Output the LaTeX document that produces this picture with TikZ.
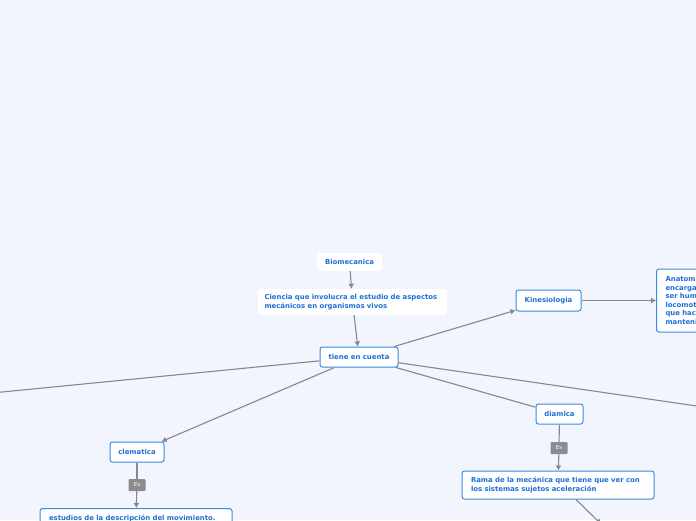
\documentclass[tikz,border=0pt]{standalone}
\usepackage{fontspec}
\setmainfont{DejaVu Sans}
\usetikzlibrary{arrows.meta}
\definecolor{bg}{HTML}{F2F5FD}
\definecolor{txt}{HTML}{1F6FD6}
\definecolor{bord}{HTML}{3A8AE6}
\definecolor{ln}{HTML}{85878F}
\definecolor{esbg}{HTML}{8C8C8C}
\tikzset{
  base/.style={fill=white, rounded corners=2.5pt, text=txt, inner sep=0pt,
    font=\fontsize{6.9}{8.6}\selectfont\bfseries},
  box/.style={base, draw=bord, line width=1pt},
  plainbox/.style={base},
  esbox/.style={fill=esbg, rounded corners=1pt, text=white, inner sep=0pt,
    minimum width=17pt, minimum height=12pt, font=\fontsize{5.5}{6}\selectfont},
  link/.style={draw=ln, line width=1.1pt},
  arr/.style={link, -{Latex[length=5pt,width=6pt]}},
}
\begin{document}
\begin{tikzpicture}[x=1pt,y=-1pt]
\useasboundingbox (0,0) rectangle (696,520);
\clip (0,0) rectangle (696,520);
\fill[bg] (0,0) rectangle (696,520);

\node[plainbox, minimum width=65pt, minimum height=18pt] (bio) at (349.5,262) {Biomecanica};
\node[plainbox, minimum width=189pt, minimum height=26pt, text width=176pt, align=left] (cien) at (352.5,302) {Ciencia que involucra el estudio de aspectos\\mecánicos en organismos vivos};
\node[box, minimum width=78pt, minimum height=20pt] (tiene) at (359,357) {tiene en cuenta};
\node[box, minimum width=65pt, minimum height=21pt] (kin) at (548.5,300.5) {Kinesiologia};
\node[box, anchor=west, minimum height=63pt, inner xsep=9pt, text width=60pt, align=left] (anat) at (656,300.5) {Anatom\\encarga\\ser hum\\locomot\\que hac\\manteni};
\node[box, minimum width=54pt, minimum height=20pt] (clem) at (137,452) {clematica};
\node[esbox] (es1) at (137,485) {Es};
\node[box, anchor=north, minimum width=192pt, inner ysep=6pt, text width=174pt, align=left] (estu) at (136,508) {estudios de la descripción del movimiento.};
\node[box, minimum width=47pt, minimum height=20pt] (dia) at (559.5,414) {diamica};
\node[esbox] (es2) at (559,448) {Es};
\node[box, minimum width=192pt, minimum height=28pt, text width=174pt, align=left] (rama) at (558,485) {Rama de la mecánica que tiene que ver con\\los sistemas sujetos aceleración};

\coordinate (offl) at (-100,402);
\coordinate (offr) at (800,421);
\coordinate (offd) at (601,524);

\draw[arr] (bio) -- (cien);
\draw[arr] (cien) -- (tiene);
\draw[arr] (tiene) -- (kin);
\draw[arr] (kin) -- (kin.east -| anat.west);
\draw[arr] (tiene) -- (clem);
\draw[link] (tiene) -- (dia);
\draw[link] (tiene) -- (offl);
\draw[link] (tiene) -- (offr);
\draw[link] (clem) -- (es1);
\draw[arr] (es1) -- (estu);
\draw[link] (dia) -- (es2);
\draw[arr] (es2) -- (rama);
\draw[arr] (rama.south -| 576,0) -- (offd);
\end{tikzpicture}
\end{document}
